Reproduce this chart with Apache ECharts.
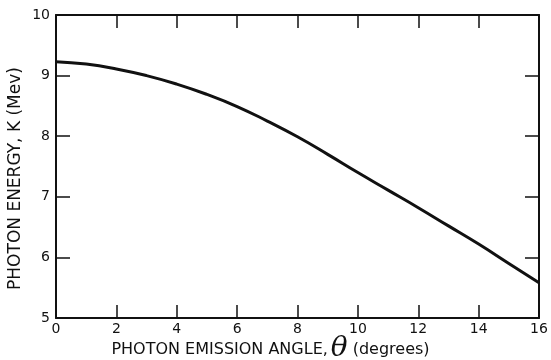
<!DOCTYPE html>
<html>
<head>
<meta charset="utf-8">
<script src="https://cdn.jsdelivr.net/npm/echarts@6/dist/echarts.min.js"></script>
<style>
  html, body { margin: 0; padding: 0; background: #fff; }
  #chart { width: 551px; height: 360px; }
</style>
</head>
<body>
<div id="chart"></div>
<script>
// emission angle (degrees) and photon energy K (Mev)
var angles = [0, 1, 2, 3, 4, 5, 6, 7, 8, 9, 10, 11, 12, 13, 14, 15, 16];
var energy = [9.23, 9.19, 9.11, 9.00, 8.86, 8.69, 8.49, 8.25, 7.99, 7.70, 7.40, 7.11, 6.82, 6.52, 6.22, 5.90, 5.58];
var xTicks = [0, 2, 4, 6, 8, 10, 12, 14, 16];
var yTicks = [5, 6, 7, 8, 9, 10];

var font = "'DejaVu Sans', sans-serif";
var ink = "#111";

var chart = echarts.init(document.getElementById("chart"));

var points = angles.map(function (a, i) { return [a, energy[i]]; });

var axisLine = { show: true, onZero: false, lineStyle: { color: ink, width: 2 } };
var tickStyle = { color: ink, width: 1.5 };

chart.setOption({
  animation: false,
  backgroundColor: "#fff",
  grid: { left: 56, right: 12, top: 15, bottom: 42, containLabel: false, outerBoundsMode: "none" },
  xAxis: [
    {
      type: "value",
      min: xTicks[0],
      max: xTicks[xTicks.length - 1],
      interval: 2,
      position: "bottom",
      axisLine: axisLine,
      axisTick: { show: true, inside: true, length: 13, lineStyle: tickStyle },
      axisLabel: { color: ink, fontFamily: font, fontSize: 14, margin: 4 },
      splitLine: { show: false },
      name: "{t|PHOTON EMISSION ANGLE,}{th|\u03B8}{d|(degrees)}",
      nameLocation: "middle",
      nameMoveOverlap: false,
      nameGap: 19,
      nameTextStyle: {
        padding: [0, 54, 0, 0],
        rich: {
          t: { fontFamily: font, fontSize: 16, color: ink, padding: [0, 3, 0, 0] },
          th: { fontFamily: "'DejaVu Serif', serif", fontStyle: "italic", fontSize: 28, color: ink, lineHeight: 26, padding: [0, 5, 3, 0] },
          d: { fontFamily: font, fontSize: 16, color: ink, padding: [0, 0, 1, 0] }
        }
      }
    },
    {
      type: "value",
      min: xTicks[0],
      max: xTicks[xTicks.length - 1],
      interval: 2,
      position: "top",
      axisLine: axisLine,
      axisTick: { show: true, inside: true, length: 13, lineStyle: tickStyle },
      axisLabel: { show: false },
      splitLine: { show: false }
    }
  ],
  yAxis: [
    {
      type: "value",
      min: yTicks[0],
      max: yTicks[yTicks.length - 1],
      interval: 1,
      position: "left",
      axisLine: axisLine,
      axisTick: { show: true, inside: true, length: 14, lineStyle: tickStyle },
      axisLabel: { color: ink, fontFamily: font, fontSize: 14, margin: 6 },
      splitLine: { show: false },
      name: "PHOTON ENERGY, K (Mev)",
      nameLocation: "middle",
      nameMoveOverlap: false,
      nameGap: 32,
      nameRotate: 90,
      nameTextStyle: { fontFamily: font, fontSize: 17, color: ink, padding: [0, 24, 0, 0] }
    },
    {
      type: "value",
      min: yTicks[0],
      max: yTicks[yTicks.length - 1],
      interval: 1,
      position: "right",
      axisLine: axisLine,
      axisTick: { show: true, inside: true, length: 14, lineStyle: tickStyle },
      axisLabel: { show: false },
      splitLine: { show: false }
    }
  ],
  series: [
    {
      type: "line",
      xAxisIndex: 0,
      yAxisIndex: 0,
      data: points,
      smooth: true,
      showSymbol: false,
      lineStyle: { color: ink, width: 3 }
    }
  ]
});
</script>
</body>
</html>
